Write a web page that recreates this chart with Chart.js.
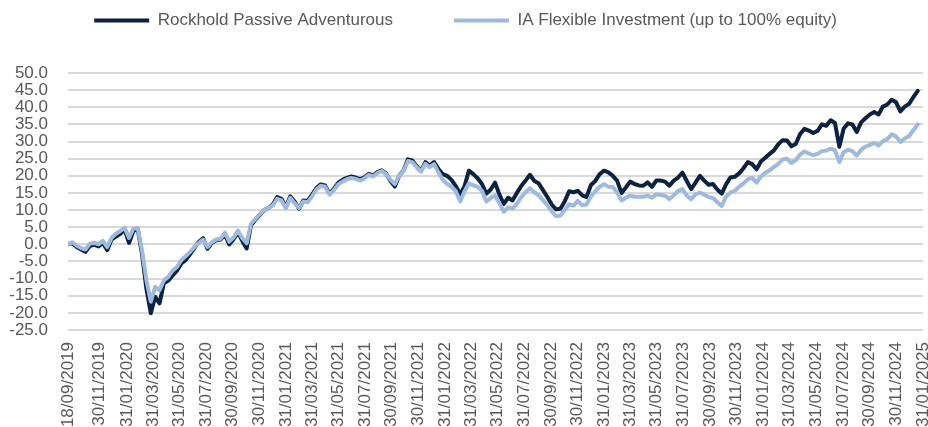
<!DOCTYPE html>
<html>
<head>
<meta charset="utf-8">
<script src="https://cdn.jsdelivr.net/npm/chart.js@4.4.1/dist/chart.umd.min.js"></script>
<style>
  html, body { margin: 0; padding: 0; background: #fff; overflow: hidden; }
</style>
</head>
<body>
<canvas id="chart" width="928" height="427"></canvas>
<script>
// Series start date and sampling step (days) of the values below
const startDate = "18/09/2019";
const stepDays = 10;

const seriesNames = ["Rockhold Passive Adventurous", "IA Flexible Investment (up to 100% equity)"];

const tickLabels = [
  "18/09/2019", "30/11/2019", "31/01/2020", "31/03/2020", "31/05/2020", "31/07/2020",
  "30/09/2020", "30/11/2020", "31/01/2021", "31/03/2021", "31/05/2021", "31/07/2021",
  "30/09/2021", "30/11/2021", "31/01/2022", "31/03/2022", "31/05/2022", "31/07/2022",
  "30/09/2022", "30/11/2022", "31/01/2023", "31/03/2023", "31/05/2023", "31/07/2023",
  "30/09/2023", "30/11/2023", "31/01/2024", "31/03/2024", "31/05/2024", "31/07/2024",
  "30/09/2024", "30/11/2024", "31/01/2025"
];

// cumulative % performance, every ~10 days
const rockhold = [
  0.0, 0.3, -0.8, -1.5, -2.2, -0.5, -0.1, -0.6, 0.4, -1.7,
  1.4, 2.3, 3.1, 4.3, 0.4, 3.9, 4.5, -3.0, -13.0, -20.1,
  -15.3, -17.2, -11.4, -10.6, -9.1, -7.7, -5.6, -4.6, -2.9, -1.1,
  0.7, 1.8, -1.3, 0.4, 1.2, 1.4, 2.8, 0.0, 1.5, 3.5,
  1.0, -1.2, 5.6, 7.2, 8.6, 10.0, 10.6, 11.6, 13.8, 13.3,
  10.8, 14.0, 12.5, 10.4, 12.8, 12.7, 14.5, 16.4, 17.5, 17.2,
  14.8, 16.2, 17.9, 18.8, 19.4, 19.8, 19.5, 19.0, 19.5, 20.6,
  20.1, 21.1, 21.6, 20.7, 18.5, 16.9, 20.0, 21.6, 24.8, 24.5,
  22.8, 21.4, 24.0, 23.0, 24.0, 22.0, 20.5, 20.0, 18.8, 17.0,
  14.5, 17.0, 21.5, 20.5, 19.3, 17.6, 14.8, 16.0, 18.0, 14.5,
  11.8, 13.6, 12.8, 15.0, 17.0, 18.6, 20.3, 18.5, 17.8, 15.8,
  13.8, 11.6, 10.2, 10.4, 12.6, 15.5, 15.2, 15.6, 14.3, 13.8,
  17.3, 18.5, 20.5, 21.5, 21.0, 20.0, 18.6, 15.0, 16.6, 18.3,
  17.6, 17.2, 17.1, 18.1, 16.8, 18.6, 18.6, 18.3, 17.1, 18.6,
  19.5, 20.9, 18.5, 16.1, 18.0, 20.0, 18.6, 17.4, 17.6, 16.0,
  14.8, 17.5, 19.5, 19.7, 20.7, 22.2, 24.0, 23.4, 21.9, 24.2,
  25.3, 26.4, 27.4, 29.2, 30.4, 30.3, 28.6, 29.3, 32.2, 33.7,
  33.2, 32.5, 33.1, 35.0, 34.6, 36.2, 35.4, 28.5, 33.8, 35.3,
  35.0, 32.8, 35.6, 36.8, 37.9, 38.6, 37.9, 40.2, 40.8, 42.2,
  41.5, 38.8, 40.2, 41.0, 43.0, 44.8
];

const iaFlexible = [
  0.0, 0.6, -0.4, -1.1, -1.5, 0.2, 0.4, 0.0, 1.0, -0.8,
  1.9, 3.1, 3.9, 4.8, 1.9, 4.5, 4.8, -2.0, -10.5, -16.7,
  -12.4, -13.4, -10.5, -9.5, -7.7, -6.6, -4.6, -3.5, -2.2, -0.8,
  0.4, 1.4, -0.8, 0.6, 1.4, 1.6, 3.4, 0.8, 2.0, 4.0,
  1.8, 0.3, 6.0, 7.4, 8.8, 10.0, 10.6, 11.3, 13.3, 12.8,
  10.5, 13.6, 12.0, 10.6, 12.5, 12.3, 14.0, 16.0, 17.1, 16.8,
  14.5, 15.8, 17.5, 18.3, 19.0, 19.4, 19.1, 18.6, 19.2, 20.3,
  19.8, 20.8, 21.4, 20.5, 18.8, 17.6, 20.0, 21.5, 24.3, 24.0,
  22.5, 21.2, 23.5, 22.5, 23.4, 21.0, 18.8, 17.6, 16.8, 15.5,
  12.5, 15.5, 17.8, 17.2, 16.8, 15.6, 12.5, 13.5, 14.2, 12.0,
  9.5, 10.8, 10.4, 11.8, 13.8, 15.2, 16.4, 15.2, 14.3, 12.9,
  11.4, 9.6, 8.2, 8.4, 10.0, 11.7, 11.3, 12.7, 11.4, 11.6,
  14.0, 15.5, 16.8, 17.5, 16.8, 16.7, 15.2, 12.8, 13.6, 14.2,
  13.9, 13.9, 13.9, 14.2, 13.6, 14.6, 14.4, 14.2, 13.2, 14.3,
  15.6, 16.1, 14.2, 13.2, 14.6, 15.1, 14.5, 13.8, 13.5, 12.3,
  11.2, 13.9, 15.1, 15.6, 16.8, 17.8, 19.0, 19.4, 18.0, 19.8,
  20.8, 21.6, 22.6, 23.5, 24.8, 25.0, 23.7, 24.6, 26.2, 27.1,
  26.5, 26.0, 26.4, 27.2, 27.4, 27.9, 27.4, 24.0, 26.9, 27.6,
  27.2, 25.9, 27.6, 28.5, 29.0, 29.6, 28.8, 30.1, 30.7, 32.1,
  31.5, 29.9, 30.9, 31.6, 33.3, 35.0
];

// days between startDate and a dd/mm/yyyy string
function dayOffset(str) {
  const p = str.split("/").map(Number);
  const s = startDate.split("/").map(Number);
  return Math.round((Date.UTC(p[2], p[1] - 1, p[0]) - Date.UTC(s[2], s[1] - 1, s[0])) / 86400000);
}

const tickDays = tickLabels.map(dayOffset);
const labelByDay = {};
tickDays.forEach((d, i) => { labelByDay[d] = tickLabels[i]; });

const toPoints = arr => arr.map((v, i) => ({ x: i * stepDays, y: v }));

const textColor = "#595959";
const fontFamily = "'Liberation Sans', Arial, sans-serif";

// push the plot down below the legend
const legendSpacer = {
  id: "legendSpacer",
  beforeInit(chart) {
    const fit = chart.legend.fit;
    chart.legend.fit = function () {
      fit.call(this);
      this.height += 34;
    };
  }
};

const ctx = document.getElementById("chart").getContext("2d");
new Chart(ctx, {
  type: "line",
  data: {
    datasets: [
      {
        label: seriesNames[0],
        data: toPoints(rockhold),
        borderColor: "#0b2343",
        backgroundColor: "#0b2343",
        borderWidth: 4,
        order: 1
      },
      {
        label: seriesNames[1],
        data: toPoints(iaFlexible),
        borderColor: "#9dbae0",
        backgroundColor: "#9dbae0",
        borderWidth: 4,
        order: 0
      }
    ]
  },
  options: {
    responsive: false,
    animation: false,
    layout: { padding: { left: 8, right: 5, top: 2, bottom: 0 } },
    elements: {
      point: { radius: 0 },
      line: { tension: 0, borderJoinStyle: "round", borderCapStyle: "round" }
    },
    plugins: {
      tooltip: { enabled: false },
      legend: {
        position: "top",
        labels: {
          boxWidth: 55,
          boxHeight: 4,
          padding: 10,
          color: textColor,
          font: { family: fontFamily, size: 17 },
          sort: (a, b) => a.datasetIndex - b.datasetIndex,
          generateLabels(chart) {
            const items = Chart.defaults.plugins.legend.labels.generateLabels(chart);
            items.forEach(it => { it.lineWidth = 0; });
            // wider gap after the first entry
            items.forEach(it => { if (it.datasetIndex === 0) it.text += "\u2003\u2003\u2003"; });
            return items;
          }
        }
      }
    },
    scales: {
      x: {
        type: "linear",
        min: 0,
        max: tickDays[tickDays.length - 1],
        grid: { display: false, drawTicks: false },
        border: { display: false },
        afterBuildTicks(axis) {
          axis.ticks = tickDays.map(d => ({ value: d }));
        },
        afterFit(axis) {
          // rotated labels only need half their text height on each side
          axis.paddingLeft = 0;
          axis.paddingRight = 0;
          axis.height = 97;
        },
        ticks: {
          autoSkip: false,
          minRotation: 90,
          maxRotation: 90,
          padding: 12,
          color: textColor,
          font: { family: fontFamily, size: 17 },
          callback: value => labelByDay[value] || ""
        }
      },
      y: {
        min: -25,
        max: 50,
        grid: { color: "#d9d9d9", lineWidth: 2, drawTicks: false },
        border: { display: false },
        afterFit(axis) {
          axis.width = 60;
        },
        ticks: {
          stepSize: 5,
          autoSkip: false,
          padding: 20,
          color: textColor,
          font: { family: fontFamily, size: 17 },
          callback: value => value.toFixed(1)
        }
      }
    }
  },
  plugins: [legendSpacer]
});
</script>
</body>
</html>
